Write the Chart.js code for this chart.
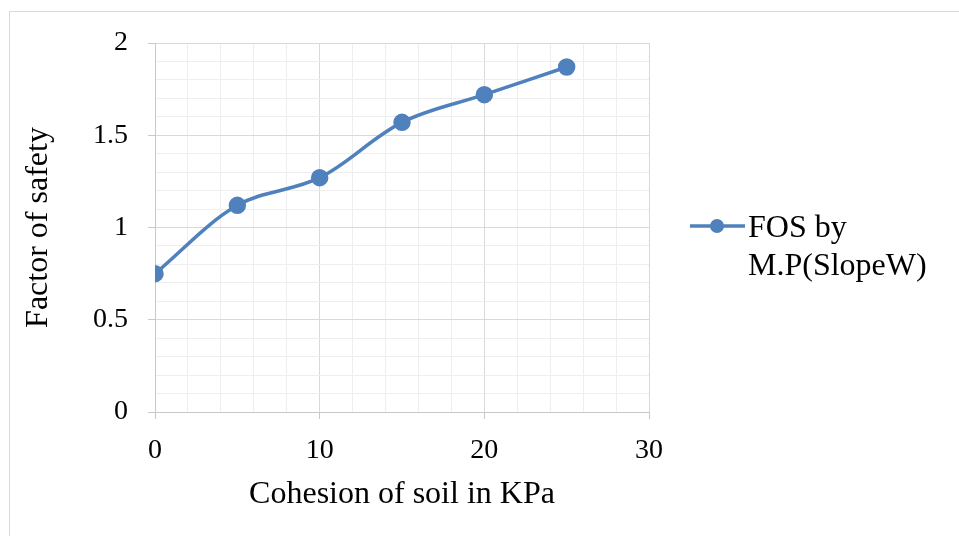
<!DOCTYPE html>
<html>
<head>
<meta charset="utf-8">
<script src="https://cdn.jsdelivr.net/npm/chart.js@4.4.1/dist/chart.umd.min.js"></script>
<style>
    html, body { margin: 0; padding: 0; background: #ffffff; }
    #wrap { position: relative; width: 959px; height: 536px; overflow: hidden; }
    #frame { position: absolute; left: 9px; top: 11px; width: 980px; height: 560px; border: 1px solid #d9d9d9; }
    #fosChart { position: absolute; left: 0; top: 0; }
</style>
</head>
<body>
<div id="wrap">
    <div id="frame"></div>
    <canvas id="fosChart" width="959" height="536"></canvas>
</div>
<script>
const cohesion = [0, 5, 10, 15, 20, 25];
const fosValues = [0.75, 1.12, 1.27, 1.57, 1.72, 1.87];
const seriesLabel = "FOS by\nM.P(SlopeW)";
const xTitle = "Cohesion of soil in KPa";
const yTitle = "Factor of safety";

const blue = "#4f81bd";
const majorGrid = "#d9d9d9";
const minorGrid = "#eeeeee";
const serif = "'Liberation Serif', 'Times New Roman', serif";

function isMultiple(v, step) {
    const r = v / step;
    return Math.abs(r - Math.round(r)) < 1e-6;
}

// legend drawn by hand so the label can wrap on two lines
const sideLegend = {
    id: "sideLegend",
    afterDraw(chart) {
        const ctx = chart.ctx;
        const ds = chart.data.datasets[0];
        const lines = ds.label.split("\n");
        ctx.save();
        ctx.strokeStyle = ds.borderColor;
        ctx.lineWidth = ds.borderWidth;
        ctx.beginPath();
        ctx.moveTo(690, 226);
        ctx.lineTo(745, 226);
        ctx.stroke();
        ctx.fillStyle = ds.pointBackgroundColor;
        ctx.beginPath();
        ctx.arc(717, 226, ds.pointRadius, 0, Math.PI * 2);
        ctx.fill();
        ctx.fillStyle = "#000000";
        ctx.font = "32px " + serif;
        ctx.textBaseline = "alphabetic";
        lines.forEach(function (line, i) {
            ctx.fillText(line, 748, 237 + i * 38);
        });
        ctx.restore();
    }
};

new Chart(document.getElementById("fosChart"), {
    type: "line",
    data: {
        datasets: [
            {
                label: seriesLabel,
                data: cohesion.map(function (c, i) { return { x: c, y: fosValues[i] }; }),
                borderColor: blue,
                backgroundColor: blue,
                pointBackgroundColor: blue,
                pointBorderColor: blue,
                borderWidth: 3.5,
                pointRadius: 7,
                tension: 0.35
            }
        ]
    },
    options: {
        responsive: false,
        animation: false,
        layout: {
            padding: { left: 0, right: 310, top: 43, bottom: 0 }
        },
        plugins: {
            legend: { display: false },
            tooltip: { enabled: false }
        },
        scales: {
            x: {
                type: "linear",
                min: 0,
                max: 30,
                afterFit: function (scale) { scale.height = 124; },
                border: { color: "#c8c8c8", width: 1 },
                grid: {
                    color: function (c) { return isMultiple(c.tick.value, 10) ? majorGrid : minorGrid; },
                    tickColor: function (c) { return isMultiple(c.tick.value, 10) ? "#c8c8c8" : "rgba(0,0,0,0)"; },
                    tickLength: 7
                },
                ticks: {
                    stepSize: 2,
                    autoSkip: false,
                    maxRotation: 0,
                    padding: 15,
                    color: "#000000",
                    font: { family: serif, size: 28 },
                    callback: function (v) { return isMultiple(v, 10) ? String(Math.round(v)) : ""; }
                },
                title: {
                    display: true,
                    text: xTitle,
                    color: "#000000",
                    font: { family: serif, size: 32 },
                    padding: { top: 0, bottom: 22 }
                }
            },
            y: {
                min: 0,
                max: 2,
                afterFit: function (scale) { scale.width = 155; },
                border: { color: "#c8c8c8", width: 1 },
                grid: {
                    color: function (c) { return isMultiple(c.tick.value, 0.5) ? majorGrid : minorGrid; },
                    tickColor: function (c) { return isMultiple(c.tick.value, 0.5) ? "#c8c8c8" : "rgba(0,0,0,0)"; },
                    tickLength: 7
                },
                ticks: {
                    stepSize: 0.1,
                    autoSkip: false,
                    padding: 20,
                    color: "#000000",
                    font: { family: serif, size: 28 },
                    callback: function (v) {
                        return isMultiple(v, 0.5) ? String(Math.round(v * 2) / 2) : "";
                    }
                },
                title: {
                    display: true,
                    text: yTitle,
                    color: "#000000",
                    font: { family: serif, size: 32 },
                    padding: { top: 19, bottom: 0 }
                }
            }
        }
    },
    plugins: [sideLegend]
});
</script>
</body>
</html>
